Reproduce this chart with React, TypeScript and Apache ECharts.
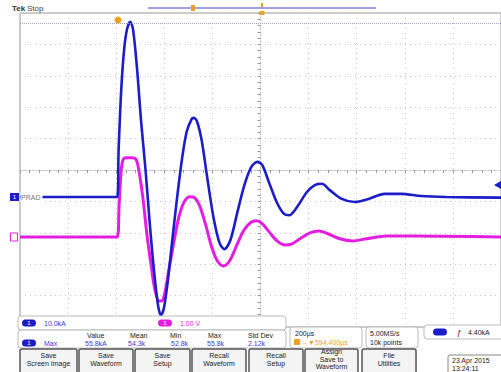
import React, { useEffect, useRef } from "react";
import * as echarts from "echarts";

// Channel 1 (current, kA) — time in µs relative to trigger
const ch1Time = [-400, 4, 10, 21, 33, 45, 58, 70, 87, 103, 122, 140, 157, 174, 186, 198, 215, 231, 252, 273, 293, 314, 322, 335, 355, 380, 405, 430, 450, 475, 504, 533, 562, 587, 607, 636, 669, 698, 719, 752, 793, 826, 855, 888, 938, 992, 1050, 1116, 1186, 1268, 1372, 1600];
const ch1kA = [0, 0, 15.0, 34.2, 47.0, 53.4, 55.8, 53.4, 40.6, 24.6, 8.6, -8.9, -23.3, -34.5, -37.7, -35.5, -26.5, -15.3, -1.0, 11.8, 20.8, 24.9, 25.2, 24.3, 18.2, 5.4, -6.7, -14.7, -16.6, -13.7, -4.8, 3.8, 9.6, 11.2, 10.2, 4.5, -1.9, -5.4, -5.8, -3.2, 1.6, 3.8, 4.2, 2.2, -0.6, -1.6, -0.6, 1.0, 1.0, 0.3, 0, -0.2];

// Channel 2 (voltage, V)
const ch2Time = [-400, 4, 12, 21, 29, 41, 66, 83, 95, 112, 128, 145, 161, 178, 190, 202, 219, 240, 260, 281, 306, 326, 347, 372, 397, 421, 446, 471, 500, 529, 558, 583, 607, 636, 669, 702, 731, 764, 806, 843, 880, 930, 983, 1041, 1124, 1248, 1600];
const ch2V = [0, 0, 1.02, 2.14, 2.46, 2.52, 2.52, 2.46, 2.08, 1.18, 0.06, -0.89, -1.69, -2.04, -2.04, -1.79, -1.05, -0.16, 0.61, 1.09, 1.28, 1.25, 0.99, 0.38, -0.32, -0.77, -0.93, -0.77, -0.29, 0.19, 0.45, 0.51, 0.42, 0.16, -0.13, -0.26, -0.22, -0.06, 0.13, 0.19, 0.10, -0.06, -0.13, -0.06, 0.03, 0.03, 0];

const ch1Max = 55.8;

const measHeaders = ["Value", "Mean", "Min", "Max", "Std Dev"];
const measValues = ["55.8kA", "54.3k", "52.8k", "55.8k", "2.12k"];
const buttonLabels = ["Save\nScreen Image", "Save\nWaveform", "Save\nSetup", "Recall\nWaveform", "Recall\nSetup", "Assign\nSave to\nWaveform", "File\nUtilities"];

const BLUE = "#1c1cc8";
const MAG = "#e41ee0";
const ORANGE = "#f0a020";
const FONT = '"Liberation Sans", Arial, sans-serif';

function txt(text: string, x: number, y: number, o: any = {}) {
  return {
    type: "text",
    x,
    y,
    z: 100,
    style: {
      text,
      fill: o.fill || "#222",
      fontSize: o.size || 7,
      fontFamily: FONT,
      fontWeight: o.weight || "normal",
      align: o.align || "left",
      verticalAlign: "middle",
      lineHeight: o.lh || 8,
    },
  };
}

function pill(cx: number, cy: number, color: string) {
  return [
    { type: "rect", z: 100, shape: { x: cx - 7, y: cy - 3.5, width: 14, height: 7, r: 3.5 }, style: { fill: color } },
    txt("1", cx, cy, { fill: "#fff", align: "center", size: 6 }),
  ];
}

export default function App() {
  const ref = useRef<HTMLDivElement>(null);
  useEffect(() => {
    if (!ref.current) return;
    const chart = echarts.init(ref.current, undefined, { renderer: "svg" });

    const xs1 = ch1Time.map((t, i) => [t, ch1kA[i]]);
    const xs2 = ch2Time.map((t, i) => [t, ch2V[i]]);

    const buttonXs = [[20, 77], [79, 133], [135, 190], [192, 246], [249, 303], [305, 358], [362, 416]];

    const graphic: any[] = [
      // header
      txt("Tek", 12, 8, { weight: "bold", size: 8, fill: "#333" }),
      txt("Stop", 27, 8, { size: 8, fill: "#444" }),
      { type: "line", z: 100, shape: { x1: 148, y1: 8, x2: 376, y2: 8 }, style: { stroke: "#a0a0dc", lineWidth: 2 } },
      { type: "rect", z: 101, shape: { x: 191, y: 5, width: 4, height: 6 }, style: { fill: ORANGE } },
      { type: "rect", z: 101, shape: { x: 261, y: 3, width: 2, height: 4 }, style: { fill: ORANGE } },
      { type: "rect", z: 101, shape: { x: 259.5, y: 11, width: 5, height: 4 }, style: { fill: ORANGE } },
      { type: "circle", z: 101, shape: { cx: 118, cy: 20, r: 3.5 }, style: { fill: ORANGE } },
      // channel markers
      { type: "rect", z: 100, shape: { x: 10, y: 193, width: 9, height: 8 }, style: { fill: BLUE } },
      txt("1", 14.5, 197, { fill: "#fff", align: "center", size: 6 }),
      { type: "rect", z: 99, shape: { x: 20.5, y: 192, width: 22, height: 10 }, style: { fill: "#fff" } },
      txt("PRAD", 21, 197, { fill: "#777", size: 7 }),
      { type: "rect", z: 100, shape: { x: 10.5, y: 233, width: 7, height: 8 }, style: { fill: "#fff", stroke: MAG, lineWidth: 1 } },
      { type: "polygon", z: 100, shape: { points: [[494, 185], [501, 181], [501, 189]] }, style: { fill: BLUE } },
      // readout row 1
      { type: "rect", z: 99, shape: { x: 18, y: 316, width: 268, height: 14, r: 3 }, style: { fill: "#fff", stroke: "#bbb", lineWidth: 1 } },
      ...pill(29, 323, BLUE),
      txt("10.0kA", 44, 323, { fill: "#3a3ad0" }),
      ...pill(165, 323, MAG),
      txt("1.00 V", 180, 323, { fill: MAG }),
      // measurement box
      { type: "rect", z: 99, shape: { x: 18, y: 330, width: 268, height: 18, r: 3 }, style: { fill: "#fff", stroke: "#bbb", lineWidth: 1 } },
      ...pill(29, 343, BLUE),
      txt("Max", 44, 343, { fill: "#3a3ad0" }),
      // timebase box
      { type: "rect", z: 99, shape: { x: 290, y: 327, width: 72, height: 21, r: 3 }, style: { fill: "#fff", stroke: "#bbb", lineWidth: 1 } },
      txt("200µs", 295, 333),
      { type: "rect", z: 100, shape: { x: 294, y: 339, width: 6, height: 6, r: 1 }, style: { fill: ORANGE } },
      txt("→▼594.400µs", 301, 342, { fill: ORANGE }),
      { type: "rect", z: 99, shape: { x: 366, y: 327, width: 52, height: 21, r: 3 }, style: { fill: "#fff", stroke: "#bbb", lineWidth: 1 } },
      txt("5.00MS/s", 370, 333),
      txt("10k points", 370, 342),
      { type: "rect", z: 99, shape: { x: 424, y: 325, width: 80, height: 14, r: 3 }, style: { fill: "#fff", stroke: "#bbb", lineWidth: 1 } },
      { type: "rect", z: 100, shape: { x: 433, y: 328.5, width: 14, height: 7, r: 3.5 }, style: { fill: BLUE } },
      txt("ƒ", 457, 332, { size: 8 }),
      txt("4.40kA", 468, 332),
      // date box
      { type: "rect", z: 99, shape: { x: 448, y: 355, width: 56, height: 20, r: 2 }, style: { fill: "#fff", stroke: "#888", lineWidth: 1 } },
      txt("23 Apr 2015\n13:24:11", 452, 364, { lh: 8 }),
    ];
    const hx = [87, 130, 170, 208, 248];
    measHeaders.forEach((h, i) => graphic.push(txt(h, hx[i], 335)));
    const vx = [85, 128, 171, 207, 248];
    measValues.forEach((v, i) => graphic.push(txt(v, vx[i], 343, { fill: "#3a3ad0" })));
    buttonLabels.forEach((b, i) => {
      const [x0, x1] = buttonXs[i];
      graphic.push({ type: "rect", z: 99, shape: { x: x0, y: 349, width: x1 - x0, height: 28, r: 2 }, style: { fill: "#f4f4f4", stroke: "#555", lineWidth: 1.5 } });
      const lines = b.split("\n").length;
      graphic.push(txt(b, (x0 + x1) / 2, 359, { align: "center", lh: lines === 3 ? 7.5 : 8 }));
    });

    chart.setOption({
      animation: false,
      backgroundColor: "#ffffff",
      grid: { left: 20, top: 13, width: 484, height: 314, show: true, borderColor: "#999", borderWidth: 1, backgroundColor: "#fff" },
      xAxis: [
        {
          type: "value", min: -400, max: 1600, interval: 200,
          axisLine: { show: false }, axisTick: { show: false }, axisLabel: { show: false },
          splitLine: { show: true, lineStyle: { color: "#c4c4c4", type: [1, 4], width: 1 } },
        },
        {
          type: "value", min: -5, max: 5, interval: 1,
          axisLine: { show: true, onZero: true, onZeroAxisIndex: 2, lineStyle: { color: "#bbb", type: [1, 2] } },
          axisTick: { show: true, inside: true, length: 3, lineStyle: { color: "#999" } },
          minorTick: { show: true, splitNumber: 5, length: 3, lineStyle: { color: "#999" } },
          axisLabel: { show: false }, splitLine: { show: false },
        },
      ],
      yAxis: [
        { type: "value", min: -41.4, max: 58.6, show: false, splitLine: { show: false } },
        { type: "value", min: -2.87, max: 7.13, show: false, splitLine: { show: false } },
        {
          type: "value", min: -5, max: 5, interval: 1,
          axisLine: { show: true, onZero: true, onZeroAxisIndex: 1, lineStyle: { color: "#bbb", type: [1, 2] } },
          axisTick: { show: true, inside: true, length: 3, lineStyle: { color: "#999" } },
          minorTick: { show: true, splitNumber: 5, length: 3, lineStyle: { color: "#999" } },
          axisLabel: { show: false },
          splitLine: { show: true, lineStyle: { color: "#c4c4c4", type: [1, 4], width: 1 } },
        },
      ],
      series: [
        {
          type: "line", name: "CH2", xAxisIndex: 0, yAxisIndex: 1, data: xs2, showSymbol: false, smooth: 0.3,
          lineStyle: { color: MAG, width: 3 }, z: 3,
        },
        {
          type: "line", name: "CH1", xAxisIndex: 0, yAxisIndex: 0, data: xs1, showSymbol: false, smooth: 0.3,
          lineStyle: { color: BLUE, width: 2.6 }, z: 4,
          markLine: {
            silent: true, symbol: "none", label: { show: false },
            lineStyle: { color: "#9aa0c8", type: [1, 1], width: 1 },
            data: [{ yAxis: ch1Max - 0.5 }],
          },
        },
      ],
      graphic,
    });
    return () => chart.dispose();
  }, []);
  return <div ref={ref} style={{ position: "fixed", left: 0, top: 0, width: 501, height: 372 }} />;
}
